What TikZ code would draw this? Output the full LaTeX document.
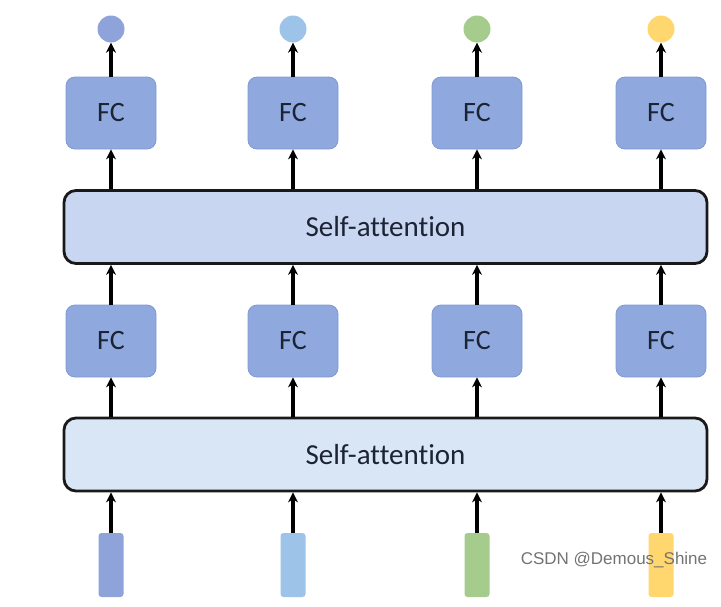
\documentclass[tikz,border=0pt]{standalone}
\usepackage{fontspec}
\setmainfont[Ligatures=NoCommon]{Carlito}
\newfontfamily\wmfont{Liberation Sans}
\usetikzlibrary{arrows.meta,positioning}

\definecolor{fcblue}{HTML}{8FA9DF}
\definecolor{fcedge}{HTML}{8099D3}
\definecolor{cola}{HTML}{8EA3D9}
\definecolor{colb}{HTML}{9DC3E8}
\definecolor{colc}{HTML}{A5CC8C}
\definecolor{cold}{HTML}{FFD76E}
\definecolor{satop}{HTML}{C8D6F2}
\definecolor{sabot}{HTML}{D9E6F6}
\definecolor{txt}{HTML}{1C2333}

\tikzset{
  fcbox/.style={draw=fcedge,fill=fcblue,line width=.8pt,rounded corners=9pt,
    minimum width=90pt,minimum height=72pt,font=\fontsize{28}{32}\selectfont,text=txt},
  sabox/.style={draw=black!90,line width=2.8pt,rounded corners=12pt,
    minimum width=643pt,minimum height=73pt,font=\fontsize{29}{33}\selectfont,text=txt},
  outdot/.style={circle,draw=none,minimum size=27pt,inner sep=0pt},
  inbar/.style={draw=none,rounded corners=3pt,minimum width=25pt,minimum height=64pt,inner sep=0pt},
  arr/.style={->,line width=3.2pt,black}
}

\begin{document}
\begin{tikzpicture}[x=1pt,y=-1pt,>={Stealth[length=10pt,width=10pt]}]
  \useasboundingbox (0,0) rectangle (721,606);
  % Spalten: Eingaenge, FC-Schichten, Ausgaenge
  \foreach \i/\x/\c in {1/111/cola,2/293/colb,3/477/colc,4/661/cold} {
    \node[inbar,fill=\c] (in\i) at (\x,565) {};
    \node[fcbox] (fca\i) at (\x,341) {FC};
    \node[fcbox] (fcb\i) at (\x,113) {FC};
    \node[outdot,fill=\c] (out\i) at (\x,29) {};
  }
  % Self-attention Schichten
  \node[sabox,fill=sabot] (sa1) at (385.5,454.5) {Self-attention};
  \node[sabox,fill=satop] (sa2) at (385.5,227) {Self-attention};
  % Pfeile
  \foreach \i in {1,...,4} {
    \draw[arr] (in\i) -- (in\i |- sa1.south);
    \draw[arr] (in\i |- sa1.north) -- (fca\i);
    \draw[arr] (fca\i) -- (fca\i |- sa2.south);
    \draw[arr] (fca\i |- sa2.north) -- (fcb\i);
    \draw[arr] (fcb\i) -- (out\i);
  }
  % Wasserzeichen
  \node[font=\wmfont\fontsize{17}{20}\selectfont,text=black!55] (wm) at (614,560) {CSDN @Demous\_Shine};
\end{tikzpicture}
\end{document}
